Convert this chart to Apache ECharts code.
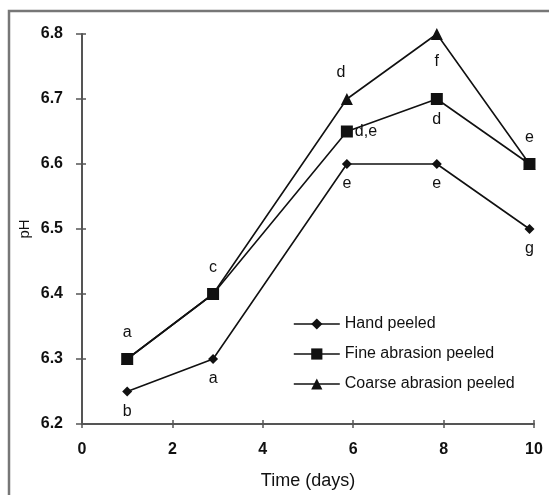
<!DOCTYPE html>
<html>
<head>
    <meta charset="UTF-8">
    <title>pH over time</title>
    <script src="https://cdn.jsdelivr.net/npm/echarts@6/dist/echarts.min.js"></script>
    <style>
        html, body { margin: 0; padding: 0; background: #fff; }
        #chart { width: 549px; height: 495px; }
    </style>
</head>
<body>
<div id="chart"></div>
<script>
    // sampling days as plotted (points sit a little left of the even ticks)
    var days = [1, 2.9, 5.86, 7.85, 9.9];
    var xTicks = [0, 2, 4, 6, 8, 10];
    var yTicks = [6.2, 6.3, 6.4, 6.5, 6.6, 6.7, 6.8];

    var handPeeled = [6.25, 6.3, 6.6, 6.6, 6.5];
    var finePeeled = [6.3, 6.4, 6.65, 6.7, 6.6];
    var coarsePeeled = [6.3, 6.4, 6.7, 6.8, 6.6];

    // significance letters next to each point
    var handLetters = ['b', 'a', 'e', 'e', 'g'];
    var handPos = ['bottom', 'bottom', 'bottom', 'bottom', 'bottom'];
    var fineLetters = ['a', 'c', 'd,e', 'd', 'e'];
    var finePos = ['top', 'top', 'right', 'bottom', 'top'];
    var coarseLetters = ['', '', 'd', 'f', ''];
    var coarsePos = ['top', 'top', 'top', 'bottom', 'top'];

    var FONT = '"Liberation Sans", Arial, sans-serif';
    var INK = '#111';
    var AXIS = '#555';

    function buildData(values, letters, positions, bottomGap) {
        return values.map(function (v, i) {
            var item = { value: [days[i], v] };
            if (letters[i]) {
                var p = positions[i];
                item.label = {
                    show: true,
                    formatter: letters[i],
                    position: p,
                    distance: p === 'right' ? 2 : (p === 'top' ? 12 : bottomGap),
                    offset: (letters[i] === 'd' && p === 'top') ? [-6, 0] : [0, 0],
                    color: INK,
                    fontFamily: FONT,
                    fontSize: 16
                };
            }
            return item;
        });
    }

    function lineSeries(name, symbol, size, values, letters, positions, bottomGap) {
        return {
            name: name,
            type: 'line',
            symbol: symbol,
            symbolSize: size,
            lineStyle: { color: INK, width: 1.6 },
            itemStyle: { color: INK },
            emphasis: { disabled: true },
            animation: false,
            data: buildData(values, letters, positions, bottomGap)
        };
    }

    var xBase = {
        type: 'value',
        min: xTicks[0],
        max: xTicks[xTicks.length - 1],
        interval: xTicks[1] - xTicks[0],
        splitLine: { show: false }
    };
    var yBase = {
        type: 'value',
        min: yTicks[0],
        max: yTicks[yTicks.length - 1],
        interval: 0.1,
        splitLine: { show: false }
    };

    var chart = echarts.init(document.getElementById('chart'));
    var option = {
        backgroundColor: '#fff',
        textStyle: { fontFamily: FONT },
        graphic: [{
            type: 'rect',
            shape: { x: 9, y: 11, width: 700, height: 700 },
            style: { fill: 'none', stroke: '#777', lineWidth: 2.5 },
            silent: true
        }],
        grid: { left: 82, right: 15, top: 34, bottom: 71, containLabel: false },
        legend: {
            orient: 'vertical',
            left: 288,
            top: 311,
            itemWidth: 46,
            itemHeight: 14,
            itemGap: 14,
            itemStyle: { color: INK },
            lineStyle: { color: INK, width: 1.6 },
            textStyle: { color: INK, fontSize: 16, fontFamily: FONT },
            data: ['Hand peeled', 'Fine abrasion peeled', 'Coarse abrasion peeled']
        },
        xAxis: [
            Object.assign({}, xBase, {
                name: 'Time (days)',
                nameLocation: 'middle',
                nameGap: 48,
                nameTextStyle: { color: INK, fontSize: 18, fontFamily: FONT },
                axisLine: { lineStyle: { color: AXIS, width: 2 } },
                axisTick: { show: true, length: 4, lineStyle: { color: AXIS, width: 1.5 } },
                axisLabel: { color: INK, fontSize: 16, margin: 18, fontFamily: FONT, fontWeight: 'bold' }
            }),
            // inner half of the crossing tick marks
            Object.assign({}, xBase, {
                position: 'bottom',
                axisLine: { show: false },
                axisTick: { show: true, inside: true, length: 4, lineStyle: { color: AXIS, width: 1.5 } },
                axisLabel: { show: false }
            })
        ],
        yAxis: [
            Object.assign({}, yBase, {
                name: 'pH',
                nameLocation: 'middle',
                nameGap: 50,
                nameMoveOverlap: false,
                nameRotate: 90,
                nameTextStyle: { color: INK, fontSize: 15, fontFamily: FONT },
                axisLine: { show: true, lineStyle: { color: AXIS, width: 2 } },
                axisTick: { show: true, length: 6, lineStyle: { color: AXIS, width: 1.5 } },
                axisLabel: {
                    color: INK, fontSize: 16, margin: 19, fontFamily: FONT, fontWeight: 'bold',
                    formatter: function (v) { return v.toFixed(1); }
                }
            }),
            Object.assign({}, yBase, {
                position: 'left',
                axisLine: { show: false },
                axisTick: { show: true, inside: true, length: 4, lineStyle: { color: AXIS, width: 1.5 } },
                axisLabel: { show: false }
            })
        ],
        series: [
            lineSeries('Hand peeled', 'diamond', 10, handPeeled, handLetters, handPos, 7),
            lineSeries('Fine abrasion peeled', 'rect', 12, finePeeled, fineLetters, finePos, 7),
            lineSeries('Coarse abrasion peeled', 'triangle', 12, coarsePeeled, coarseLetters, coarsePos, 14)
        ]
    };
    chart.setOption(option);
</script>
</body>
</html>
